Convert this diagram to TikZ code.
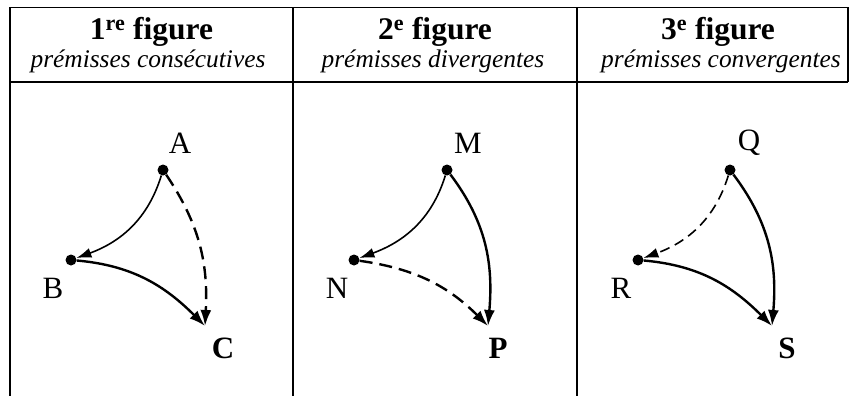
\documentclass[tikz,border=0pt]{standalone}
\usepackage{fontspec}
\setmainfont{Liberation Serif}
\usetikzlibrary{arrows.meta}
\begin{document}
\begin{tikzpicture}[x=1pt,y=-1pt,
  rule/.style={line width=1.8pt},
  title/.style={anchor=base,font=\fontsize{31.5}{34}\selectfont\bfseries,inner sep=0},
  subtitle/.style={anchor=base,font=\fontsize{25.4}{28}\selectfont\itshape,inner sep=0},
  lbl/.style={font=\fontsize{31}{33}\selectfont,inner sep=0},
  blbl/.style={font=\fontsize{31}{33}\selectfont\bfseries,inner sep=0},
  dot/.style={circle,fill,inner sep=0,minimum size=11pt},
  thinarr/.style={line width=1.6pt,-{Latex[length=15pt,width=10pt]}},
  thickarr/.style={line width=2.4pt,-{Latex[length=16pt,width=11pt]}},
  dasharr/.style={dash pattern=on 13pt off 7pt}
]
\useasboundingbox (0,0) rectangle (849,396);
% table
\draw[rule] (10,7.5) -- (848,7.5);
\draw[rule] (10,82) -- (848,82);
\draw[rule] (10,7.5) -- (10,396);
\draw[rule] (293,7.5) -- (293,396);
\draw[rule] (577,7.5) -- (577,396);
\draw[rule] (848,7.5) -- (848,82);
% headers
\node[title] (t1) at (151.5,40) {1\textsuperscript{re} figure};
\node[subtitle] (s1) at (148,67) {prémisses consécutives};
\node[title] (t2) at (435,40) {2\textsuperscript{e} figure};
\node[subtitle] (s2) at (433,67) {prémisses divergentes};
\node[title] (t3) at (718,40) {3\textsuperscript{e} figure};
\node[subtitle] (s3) at (721,67) {prémisses convergentes};
% column 1
\node[dot] (A) at (163,170) {};
\node[dot] (B) at (71,260) {};
\coordinate (C) at (205,326);
\node[lbl] (lA) at (180,143) {A};
\node[lbl] (lB) at (53,288) {B};
\node[blbl] (lC) at (223,348) {C};
\draw[thinarr] (A) to[out=-107,in=20] (B);
\draw[thickarr] (B) to[out=-5,in=135] (C);
\draw[thickarr,dasharr] (A) to[out=-56,in=87] (C);
% column 2
\node[dot] (M) at (447,170) {};
\node[dot] (N) at (354,260) {};
\coordinate (P) at (488,326);
\node[lbl] (lM) at (468,143) {M};
\node[lbl] (lN) at (337,288) {N};
\node[blbl] (lP) at (498,348) {P};
\draw[thinarr] (M) to[out=-107,in=20] (N);
\draw[thickarr] (M) to[out=-53,in=85] (P);
\draw[thickarr,dasharr] (N) to[out=-8,in=135] (P);
% column 3
\node[dot] (Q) at (730,170) {};
\node[dot] (R) at (638,260) {};
\coordinate (S) at (772,326);
\node[lbl] (lQ) at (749,143) {Q};
\node[lbl] (lR) at (621,288) {R};
\node[blbl] (lS) at (787,348) {S};
\draw[thinarr,dash pattern=on 10pt off 6pt] (Q) to[out=-107,in=20] (R);
\draw[thickarr] (Q) to[out=-53,in=85] (S);
\draw[thickarr] (R) to[out=-5,in=135] (S);
\end{tikzpicture}
\end{document}
